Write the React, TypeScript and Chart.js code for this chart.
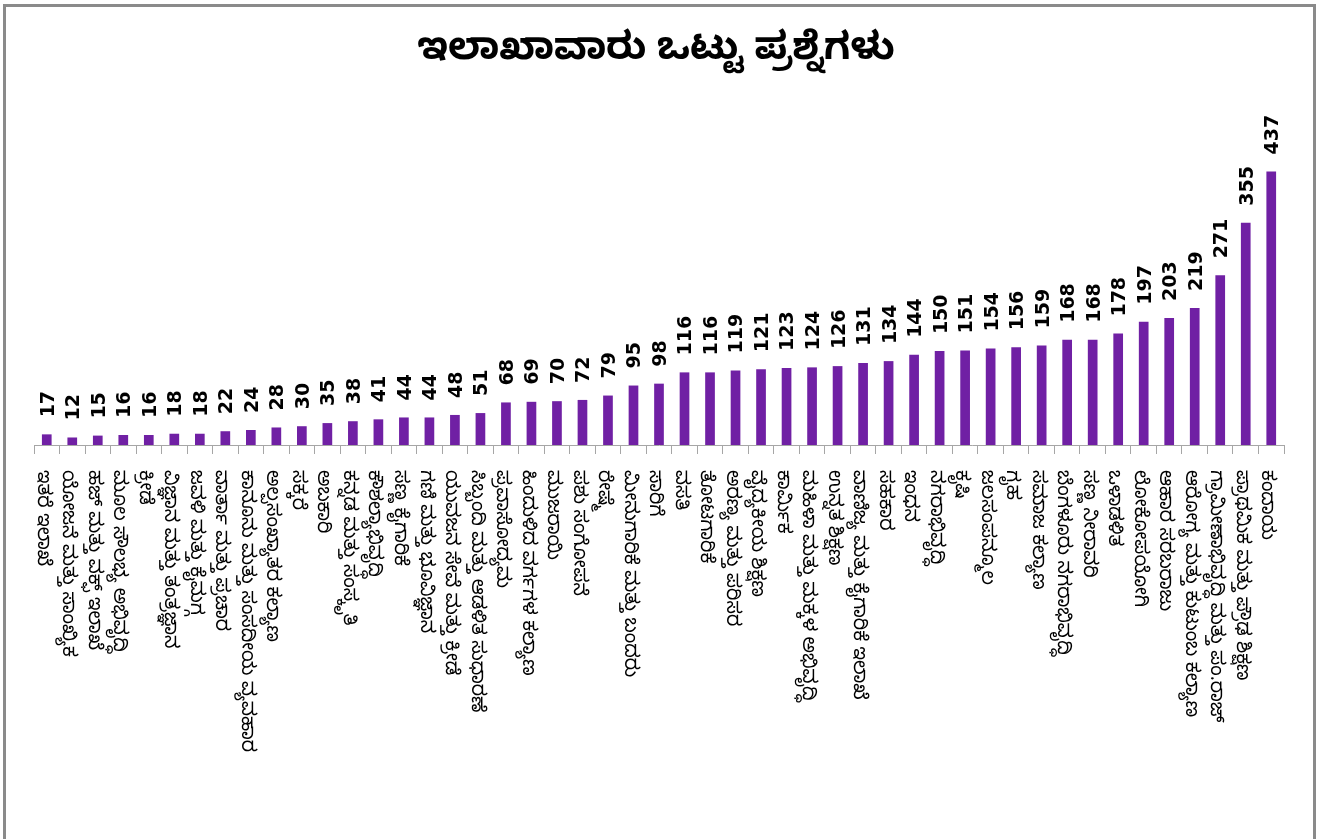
import React, { useEffect, useRef } from "react";
import { Chart, registerables } from "chart.js";

Chart.register(...registerables);

const TITLE = "ಇಲಾಖಾವಾರು ಒಟ್ಟು ಪ್ರಶ್ನೆಗಳು";

const departments: string[] = [
  "ಇತರೆ ಇಲಾಖೆ",
  "ಯೋಜನೆ ಮತ್ತು ಸಾಂಖ್ಯಿಕ",
  "ಹಜ್ ಮತ್ತು ವಕ್ಫ್ ಇಲಾಖೆ",
  "ಮೂಲ ಸೌಲಭ್ಯ ಅಭಿವೃದ್ಧಿ",
  "ಕ್ರೀಡೆ",
  "ವಿಜ್ಞಾನ ಮತ್ತು ತಂತ್ರಜ್ಞಾನ",
  "ಜವಳಿ ಮತ್ತು ಕೈಮಗ್ಗ",
  "ವಾರ್ತಾ ಮತ್ತು ಪ್ರಚಾರ",
  "ಕಾನೂನು ಮತ್ತು ಸಂಸದೀಯ ವ್ಯವಹಾರ",
  "ಅಲ್ಪಸಂಖ್ಯಾತರ ಕಲ್ಯಾಣ",
  "ಸಕ್ಕರೆ",
  "ಅಬಕಾರಿ",
  "ಕನ್ನಡ ಮತ್ತು ಸಂಸ್ಕೃತಿ",
  "ಕೌಶಲ್ಯಾಭಿವೃದ್ಧಿ",
  "ಸಣ್ಣ ಕೈಗಾರಿಕೆ",
  "ಗಣಿ ಮತ್ತು ಭೂವಿಜ್ಞಾನ",
  "ಯುವಜನ ಸೇವೆ ಮತ್ತು ಕ್ರೀಡೆ",
  "ಸಿಬ್ಬಂದಿ ಮತ್ತು ಆಡಳಿತ ಸುಧಾರಣೆ",
  "ಪ್ರವಾಸೋದ್ಯಮ",
  "ಹಿಂದುಳಿದ ವರ್ಗಗಳ ಕಲ್ಯಾಣ",
  "ಮುಜರಾಯಿ",
  "ಪಶು ಸಂಗೋಪನೆ",
  "ರೇಷ್ಮೆ",
  "ಮೀನುಗಾರಿಕೆ ಮತ್ತು ಬಂದರು",
  "ಸಾರಿಗೆ",
  "ವಸತಿ",
  "ತೋಟಗಾರಿಕೆ",
  "ಅರಣ್ಯ ಮತ್ತು ಪರಿಸರ",
  "ವೈದ್ಯಕೀಯ ಶಿಕ್ಷಣ",
  "ಕಾರ್ಮಿಕ",
  "ಮಹಿಳಾ ಮತ್ತು ಮಕ್ಕಳ ಅಭಿವೃದ್ಧಿ",
  "ಉನ್ನತ ಶಿಕ್ಷಣ",
  "ವಾಣಿಜ್ಯ ಮತ್ತು ಕೈಗಾರಿಕೆ ಇಲಾಖೆ",
  "ಸಹಕಾರ",
  "ಇಂಧನ",
  "ನಗರಾಭಿವೃದ್ಧಿ",
  "ಕೃಷಿ",
  "ಜಲಸಂಪನ್ಮೂಲ",
  "ಗೃಹ",
  "ಸಮಾಜ ಕಲ್ಯಾಣ",
  "ಬೆಂಗಳೂರು ನಗರಾಭಿವೃದ್ಧಿ",
  "ಸಣ್ಣ ನೀರಾವರಿ",
  "ಒಳಾಡಳಿತ",
  "ಲೋಕೋಪಯೋಗಿ",
  "ಆಹಾರ ಸರಬರಾಜು",
  "ಆರೋಗ್ಯ ಮತ್ತು ಕುಟುಂಬ ಕಲ್ಯಾಣ",
  "ಗ್ರಾಮೀಣಾಭಿವೃದ್ಧಿ ಮತ್ತು ಪಂ.ರಾಜ್",
  "ಪ್ರಾಥಮಿಕ ಮತ್ತು ಪ್ರೌಢ ಶಿಕ್ಷಣ",
  "ಕಂದಾಯ",
];

const questions: number[] = [
  17, 12, 15, 16, 16, 18, 18, 22, 24, 28, 30, 35, 38, 41, 44, 44, 48, 51,
  68, 69, 70, 72, 79, 95, 98, 116, 116, 119, 121, 123, 124, 126, 131, 134,
  144, 150, 151, 154, 156, 159, 168, 168, 178, 197, 203, 219, 271, 355, 437,
];

const W = 1324;
const H = 839;
const BAR_COLOR = "#7020A4";
const KN_FONT = "'Noto Sans Kannada', 'Noto Sans', 'DejaVu Sans', sans-serif";

const decorPlugin = {
  id: "decor",
  beforeDraw(chart: any) {
    const ctx = chart.ctx;
    ctx.save();
    ctx.fillStyle = "#ffffff";
    ctx.fillRect(0, 0, W, H);
    ctx.strokeStyle = "#8a8a8a";
    ctx.lineWidth = 3;
    ctx.strokeRect(4.5, 5.5, 1310, 900);
    ctx.restore();
  },
  afterDraw(chart: any) {
    const ctx = chart.ctx;
    // title
    ctx.save();
    ctx.fillStyle = "#000000";
    ctx.font = `bold 38px ${KN_FONT}`;
    ctx.textAlign = "center";
    ctx.textBaseline = "middle";
    ctx.fillText(TITLE, 656, 55);
    ctx.restore();

    // value labels
    const meta = chart.getDatasetMeta(0);
    ctx.save();
    ctx.fillStyle = "#000000";
    ctx.font = "bold 19px 'DejaVu Sans', sans-serif";
    meta.data.forEach((bar: any, i: number) => {
      ctx.save();
      ctx.translate(bar.x + 2, bar.y - 17);
      ctx.rotate(-Math.PI / 2);
      ctx.textAlign = "left";
      ctx.textBaseline = "middle";
      ctx.fillText(String(questions[i]), 0, 0);
      ctx.restore();
    });
    ctx.restore();

    // category labels, rotated clockwise
    const xs = chart.scales.x;
    ctx.save();
    ctx.fillStyle = "#000000";
    ctx.font = `19px ${KN_FONT}`;
    departments.forEach((lab, i) => {
      const x = xs.getPixelForTick(i) - 7;
      ctx.save();
      ctx.translate(x, 470);
      ctx.rotate(Math.PI / 2);
      ctx.textAlign = "left";
      ctx.textBaseline = "middle";
      ctx.fillText(lab, 0, 0);
      ctx.restore();
    });
    ctx.restore();
  },
};

export default function App() {
  const ref = useRef<HTMLCanvasElement | null>(null);
  useEffect(() => {
    if (!ref.current) return;
    const chart = new Chart(ref.current, {
      type: "bar",
      data: {
        labels: departments,
        datasets: [
          {
            data: questions,
            backgroundColor: BAR_COLOR,
            borderWidth: 0,
            barPercentage: 0.38,
            categoryPercentage: 1,
          },
        ],
      },
      options: {
        animation: false,
        responsive: false,
        maintainAspectRatio: false,
        layout: { padding: { top: 132, left: 34, right: 40, bottom: 0 } },
        plugins: {
          legend: { display: false },
          title: { display: false },
          tooltip: { enabled: false },
        },
        scales: {
          x: {
            offset: true,
            grid: {
              display: true,
              offset: true,
              drawOnChartArea: false,
              drawTicks: true,
              tickLength: 9,
              color: "#a6a6a6",
              lineWidth: 1,
            },
            border: { display: true, color: "#a6a6a6", width: 1 },
            ticks: { display: false },
            afterFit: (scale: any) => {
              scale.height = H - 445;
            },
          },
          y: {
            display: false,
            min: 0,
            max: 500,
          },
        },
      },
      plugins: [decorPlugin],
    });
    return () => chart.destroy();
  }, []);
  return (
    <div style={{ position: "fixed", left: 0, top: 0, width: W, height: H, background: "#fff" }}>
      <canvas ref={ref} width={W} height={H} style={{ display: "block" }} />
    </div>
  );
}
